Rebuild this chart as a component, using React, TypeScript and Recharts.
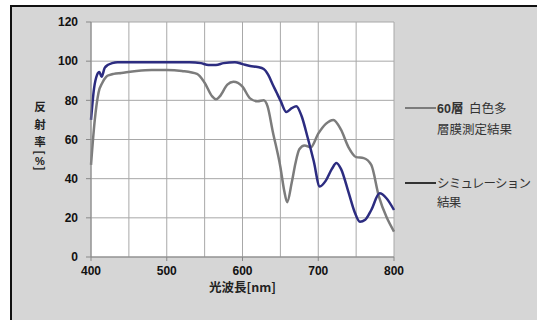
import { CartesianGrid, Line, LineChart, XAxis, YAxis, Label } from "recharts";

const measuredNm = [400, 405, 410, 415, 420, 425, 430, 440, 460, 480, 500, 520, 540, 550, 560, 565, 570, 580, 588, 600, 610, 620, 628, 633, 640, 650, 655, 659, 665, 670, 675, 682, 690, 700, 710, 720, 730, 740, 750, 760, 770, 780, 790, 800];
const measuredPct = [47, 70, 84, 89, 92, 93, 93.5, 94, 95, 95.5, 95.5, 95, 93.5, 89, 82, 80.5, 82, 88, 89.5, 87, 81, 79.5, 80, 77, 64, 46, 34, 28, 38, 48, 55, 57, 56, 63, 68, 70, 65, 56, 51, 50.5, 47, 31, 20.5, 13];

const simNm = [400, 404, 408, 411, 414, 418, 422, 428, 435, 450, 500, 530, 545, 555, 565, 575, 590, 600, 610, 620, 628, 634, 640, 645, 650, 658, 665, 671, 678, 686, 694, 702, 710, 718, 724, 730, 740, 748, 755, 762, 770, 781, 790, 800];
const simPct = [70, 86, 93, 94.5, 92, 96.5, 98, 99, 99.5, 99.5, 99.5, 99.5, 99, 98, 98, 99, 99.5, 98.5, 97.5, 97, 96, 93, 88, 84, 80, 74, 76, 77, 72, 61, 49, 36, 39, 45, 48, 45, 33, 23, 18, 19, 24, 32.5, 30, 24];

const xTicks = [400, 500, 600, 700, 800];
const xGrid = [400, 450, 500, 550, 600, 650, 700, 750, 800];
const yTicks = [0, 20, 40, 60, 80, 100, 120];
const yTitleChars = ["反", "射", "率", "[", "%", "]"];

const measured = measuredNm.map((nm, i) => ({ nm, v: measuredPct[i] }));
const simulated = simNm.map((nm, i) => ({ nm, v: simPct[i] }));

const GRAY = "#7c7c7c";
const NAVY = "#2c2c80";
const FONT = "'Liberation Sans', Arial, sans-serif";
const JP = "'Noto Sans CJK JP', sans-serif";

function YTitle() {
  const ys = [106, 123.5, 141, 152.5, 160.5, 168.5];
  return (
    <g>
      {yTitleChars.map((c, i) => {
        const bracket = c === "[" || c === "]";
        return (
          <text
            key={i}
            x={40}
            y={ys[i]}
            textAnchor="middle"
            dominantBaseline="central"
            transform={bracket ? `rotate(90 40 ${ys[i]})` : undefined}
            style={{
              fontFamily: c === "%" ? FONT : JP,
              fontWeight: 700,
              fontSize: c === "%" ? 11 : bracket ? 12 : 11.5,
            }}
            fill="#222"
          >
            {c}
          </text>
        );
      })}
    </g>
  );
}

function LegendBox() {
  const row = { display: "flex", alignItems: "flex-start" } as const;
  const seg = (c: string) => (
    <div style={{ width: 31, height: 2, background: c, marginTop: 9, marginRight: 1, flexShrink: 0 }} />
  );
  return (
    <div
      style={{
        position: "absolute",
        left: 405,
        top: 98,
        width: 132,
        fontFamily: JP,
        fontSize: 12.5,
        color: "#333",
        lineHeight: "19px",
        whiteSpace: "nowrap",
      }}
    >
      <div style={row}>
        {seg(GRAY)}
        <div>
          <span style={{ fontFamily: FONT, fontWeight: 700 }}>60</span>
          <span style={{ fontWeight: 700 }}>層</span>&nbsp;&nbsp;白色多
          <br />
          層膜測定結果
        </div>
      </div>
      <div style={{ ...row, marginTop: 35 }}>
        {seg("#333")}
        <div style={{ letterSpacing: -0.8 }}>
          シミュレーション
          <br />
          結果
        </div>
      </div>
    </div>
  );
}

export default function App() {
  return (
    <div style={{ position: "fixed", left: 0, top: 0, width: 537, height: 320, background: "#fff" }}>
      <div
        style={{
          position: "absolute",
          left: 10,
          top: 5,
          right: 0,
          bottom: 0,
          background: "#d6d6d6",
          borderLeft: "2px solid #111",
          borderTop: "2px solid #111",
        }}
      />
      <div style={{ position: "absolute", left: 0, top: 0 }}>
        <LineChart width={537} height={320} margin={{ top: 22, right: 143, bottom: 33, left: 0 }}>
          <CartesianGrid
            fill="#fff"
            stroke="#a8a8a8"
            strokeWidth={1}
            verticalValues={xGrid}
            horizontalValues={yTicks}
          />
          <XAxis
            dataKey="nm"
            type="number"
            domain={[400, 800]}
            ticks={xTicks}
            allowDuplicatedCategory={false}
            stroke="#888"
            tickSize={4}
            tickMargin={5}
            tick={{ fill: "#111", fontFamily: FONT, fontWeight: 700, fontSize: 12 }}
            height={30}
          >
            <Label
              value="光波長[nm]"
              position="bottom"
              offset={-4}
              style={{ fontFamily: JP, fontWeight: 700, fontSize: 12.5, fill: "#222" }}
            />
          </XAxis>
          <YAxis
            dataKey="v"
            type="number"
            domain={[0, 120]}
            ticks={yTicks}
            width={91}
            stroke="#888"
            tickSize={5}
            tickMargin={8}
            tick={{ fill: "#111", fontFamily: FONT, fontWeight: 700, fontSize: 12 }}
          >
            <Label content={YTitle} />
          </YAxis>
          <Line
            data={measured}
            dataKey="v"
            type="monotone"
            stroke={GRAY}
            strokeWidth={2.5}
            dot={false}
            isAnimationActive={false}
          />
          <Line
            data={simulated}
            dataKey="v"
            type="monotone"
            stroke={NAVY}
            strokeWidth={2.5}
            dot={false}
            isAnimationActive={false}
          />
        </LineChart>
      </div>
      <LegendBox />
    </div>
  );
}
